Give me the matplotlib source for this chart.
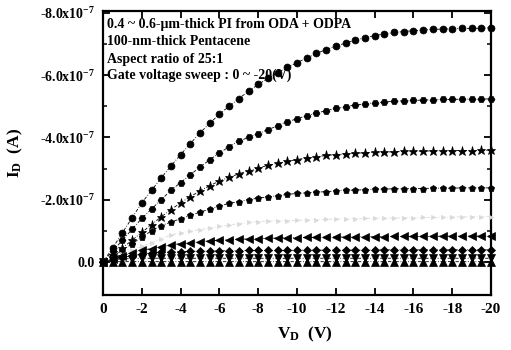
import matplotlib
matplotlib.use("Agg")
import matplotlib.pyplot as plt

plt.rcParams['font.family'] = ['Liberation Serif', 'DejaVu Serif']
plt.rcParams['font.weight'] = 'bold'
plt.rcParams['mathtext.fontset'] = 'custom'
plt.rcParams['mathtext.rm'] = 'Liberation Serif:bold'
plt.rcParams['mathtext.bf'] = 'Liberation Serif:bold'
plt.rcParams['mathtext.it'] = 'Liberation Serif:bold'

# Drain voltage (V)
vd = [0, -0.5, -1, -1.5, -2, -2.5, -3, -3.5, -4, -4.5, -5, -5.5, -6, -6.5, -7, -7.5,
      -8, -8.5, -9, -9.5, -10, -10.5, -11, -11.5, -12, -12.5, -13, -13.5, -14, -14.5,
      -15, -15.5, -16, -16.5, -17, -17.5, -18, -18.5, -19, -19.5, -20]

# Drain current in units of -1e-7 A, one list per gate voltage
vg_m20 = [0, 0.45, 0.94, 1.42, 1.9, 2.3, 2.7, 3.08, 3.45, 3.8, 4.15, 4.45, 4.75, 5.0, 5.25,
          5.48, 5.7, 5.9, 6.08, 6.25, 6.4, 6.55, 6.7, 6.82, 6.93, 7.03, 7.12, 7.2, 7.27,
          7.32, 7.37, 7.4, 7.43, 7.45, 7.47, 7.48, 7.49, 7.5, 7.5, 7.51, 7.52]
vg_m175 = [0, 0.35, 0.7, 1.05, 1.4, 1.7, 2.0, 2.3, 2.55, 2.8, 3.05, 3.28, 3.5, 3.7, 3.88,
           4.0, 4.12, 4.25, 4.37, 4.5, 4.6, 4.7, 4.78, 4.86, 4.93, 4.99, 5.04, 5.08, 5.11,
           5.14, 5.16, 5.18, 5.19, 5.2, 5.21, 5.22, 5.22, 5.23, 5.23, 5.23, 5.24]
vg_m15 = [0, 0.22, 0.45, 0.7, 0.95, 1.2, 1.45, 1.68, 1.9, 2.1, 2.28, 2.45, 2.6, 2.72, 2.83,
          2.93, 3.02, 3.1, 3.17, 3.23, 3.29, 3.34, 3.38, 3.42, 3.45, 3.47, 3.49, 3.51, 3.52,
          3.53, 3.54, 3.55, 3.56, 3.56, 3.57, 3.57, 3.58, 3.58, 3.58, 3.59, 3.59]
vg_m125 = [0, 0.18, 0.38, 0.58, 0.8, 1.0, 1.17, 1.28, 1.39, 1.5, 1.6, 1.7, 1.8, 1.88, 1.94,
           2.0, 2.05, 2.09, 2.13, 2.17, 2.2, 2.22, 2.24, 2.26, 2.28, 2.3, 2.31, 2.32, 2.33,
           2.34, 2.35, 2.35, 2.36, 2.36, 2.37, 2.37, 2.37, 2.38, 2.38, 2.38, 2.38]
vg_m10 = [0, 0.12, 0.25, 0.38, 0.5, 0.62, 0.75, 0.87, 0.93, 0.99, 1.04, 1.09, 1.14, 1.19,
          1.23, 1.27, 1.3, 1.31, 1.32, 1.33, 1.34, 1.35, 1.36, 1.37, 1.38, 1.39, 1.39, 1.4,
          1.4, 1.41, 1.41, 1.42, 1.42, 1.43, 1.43, 1.44, 1.44, 1.45, 1.45, 1.46, 1.46]
vg_m75 = [0, 0.1, 0.2, 0.3, 0.38, 0.43, 0.48, 0.55, 0.59, 0.62, 0.65, 0.68, 0.7, 0.72, 0.73,
          0.74, 0.75, 0.76, 0.77, 0.78, 0.78, 0.79, 0.79, 0.8, 0.8, 0.8, 0.81, 0.81, 0.81,
          0.81, 0.82, 0.82, 0.82, 0.82, 0.82, 0.83, 0.83, 0.83, 0.83, 0.83, 0.83]
vg_m5 = [0, 0.08, 0.15, 0.2, 0.25, 0.29, 0.31, 0.32, 0.33, 0.34, 0.35, 0.35, 0.36, 0.36,
         0.36, 0.37, 0.37, 0.37, 0.37, 0.37, 0.38, 0.38, 0.38, 0.38, 0.38, 0.38, 0.38, 0.38,
         0.39, 0.39, 0.39, 0.39, 0.39, 0.39, 0.39, 0.39, 0.39, 0.39, 0.39, 0.39, 0.39]
vg_m25 = [0, 0.07, 0.1, 0.11, 0.12, 0.12, 0.12, 0.12, 0.12, 0.12, 0.12, 0.12, 0.12, 0.12,
          0.12, 0.12, 0.12, 0.12, 0.12, 0.12, 0.12, 0.12, 0.12, 0.12, 0.12, 0.12, 0.12, 0.12,
          0.12, 0.12, 0.12, 0.12, 0.12, 0.12, 0.12, 0.12, 0.12, 0.12, 0.12, 0.12, 0.12]
vg_0 = [0, 0.01, 0.01, 0.01, 0.01, 0.01, 0.01, 0.01, 0.01, 0.01, 0.01, 0.01, 0.01, 0.01,
        0.01, 0.01, 0.01, 0.01, 0.01, 0.01, 0.01, 0.01, 0.01, 0.01, 0.01, 0.01, 0.01, 0.01,
        0.01, 0.01, 0.01, 0.01, 0.01, 0.01, 0.01, 0.01, 0.01, 0.01, 0.01, 0.01, 0.01]

series = [vg_m20, vg_m175, vg_m15, vg_m125, vg_m10, vg_m75, vg_m5, vg_m25, vg_0]
markers = ['o', 'H', '*', 'p', '>', '<', 'D', 'v', '^']
msizes = [5, 5, 6.5, 5, 3, 5.5, 4, 5.5, 5.5]
colors = ['black', 'black', 'black', 'black', '#dadada', 'black', 'black', 'black', 'black']

y_ticks = [0, -2e-7, -4e-7, -6e-7, -8e-7]
y_ticklabels = ['0.0', r'-2.0x10$^{-7}$', r'-4.0x10$^{-7}$', r'-6.0x10$^{-7}$', r'-8.0x10$^{-7}$']
x_ticks = [0, -2, -4, -6, -8, -10, -12, -14, -16, -18, -20]
x_ticklabels = ['0', '-2', '-4', '-6', '-8', '-10', '-12', '-14', '-16', '-18', '-20']

notes = ['0.4 ~ 0.6-\u03bcm-thick PI from ODA + ODPA',
         '100-nm-thick Pentacene',
         'Aspect ratio of 25:1',
         'Gate voltage sweep : 0 ~ -20(V)']
note_y = [0.951, 0.891, 0.829, 0.772]

fig = plt.figure(figsize=(5.11, 3.5), dpi=100)
ax = fig.add_axes([103 / 511, 1 - 295 / 350, 388 / 511, 284 / 350])

for ys, m, ms, c in zip(series, markers, msizes, colors):
    ax.plot(vd, [-v * 1e-7 for v in ys], linestyle=(0, (4, 2, 1, 2)), linewidth=0.6,
            color=c, marker=m, markersize=ms, markerfacecolor=c, markeredgecolor=c,
            markeredgewidth=0.5, clip_on=False, zorder=3)

ax.set_xlim(0, -20)
ax.set_ylim(1.06e-7, -8.06e-7)
ax.set_xticks(x_ticks)
ax.set_xticklabels(x_ticklabels, fontsize=11, fontweight='bold')
ax.set_yticks(y_ticks)
ax.set_yticklabels(y_ticklabels, fontsize=10, fontweight='bold')
ax.set_yticks([-1e-7, -3e-7, -5e-7, -7e-7], minor=True)
ax.tick_params(axis='both', which='major', direction='in', length=5, width=1.3,
               top=True, right=True, pad=6)
ax.tick_params(axis='y', which='minor', direction='in', length=3, width=1.1, right=True)
for s in ax.spines.values():
    s.set_linewidth(1.6)

ax.set_xlabel(r'V$_\mathrm{D}$  (V)', fontsize=12.5, fontweight='bold')
ax.xaxis.set_label_coords(0.52, -0.105)
ax.set_ylabel(r'I$_\mathrm{D}$  (A)', fontsize=12.5, fontweight='bold')
ax.yaxis.set_label_coords(-0.20, 0.5)

for t, y in zip(notes, note_y):
    ax.text(0.01, y, t, transform=ax.transAxes, fontsize=10,
            fontweight='bold', va='center', ha='left', zorder=5)

fig.savefig('out.png', dpi=100)
